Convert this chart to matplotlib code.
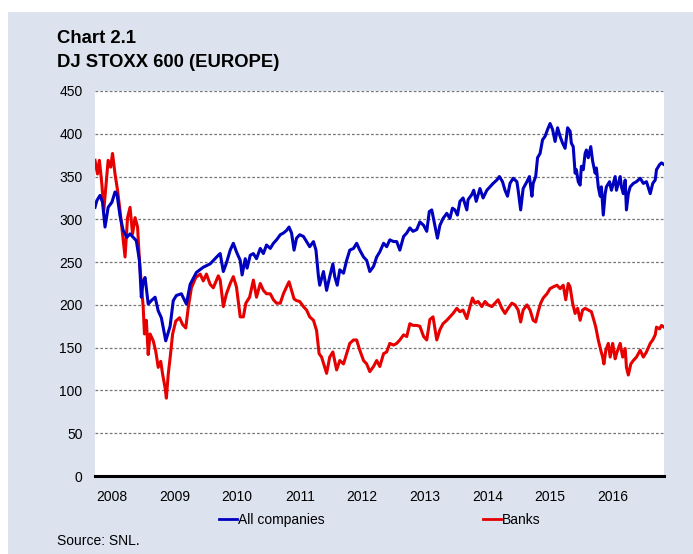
import matplotlib.pyplot as plt
from matplotlib.patches import Rectangle
from matplotlib.lines import Line2D

plt.rcParams["font.family"] = ["Liberation Sans", "DejaVu Sans"]

# All companies (blue), decimal year / index level
blue_t = [2008.00, 2008.03, 2008.08, 2008.12, 2008.16, 2008.21, 2008.27, 2008.32, 2008.35, 2008.40,
          2008.45, 2008.51, 2008.56, 2008.61, 2008.66, 2008.71, 2008.74, 2008.77, 2008.80, 2008.85,
          2008.90, 2008.96, 2009.01, 2009.06, 2009.13, 2009.20, 2009.25, 2009.30, 2009.38, 2009.46,
          2009.52, 2009.62, 2009.73, 2009.84, 2009.97,
          2010.00, 2010.05, 2010.10, 2010.16, 2010.21, 2010.26, 2010.32, 2010.35, 2010.40, 2010.43,
          2010.48, 2010.53, 2010.58, 2010.64, 2010.69, 2010.74, 2010.80, 2010.85, 2010.90, 2010.96,
          2011.01, 2011.06, 2011.10, 2011.14, 2011.18, 2011.22, 2011.27, 2011.33, 2011.38, 2011.43,
          2011.49, 2011.53, 2011.57, 2011.59, 2011.65, 2011.70, 2011.75,
          2011.80, 2011.83, 2011.87, 2011.91, 2011.97, 2012.02, 2012.07, 2012.13, 2012.18, 2012.23,
          2012.29, 2012.34, 2012.39, 2012.45, 2012.50, 2012.55, 2012.61, 2012.66, 2012.71, 2012.77,
          2012.82, 2012.87, 2012.93, 2012.98, 2013.03, 2013.08, 2013.14, 2013.19, 2013.25, 2013.30,
          2013.34, 2013.38, 2013.43, 2013.47, 2013.51, 2013.56, 2013.62, 2013.67,
          2013.71, 2013.75, 2013.79, 2013.83, 2013.88, 2013.94, 2013.96, 2014.02, 2014.05, 2014.09,
          2014.15, 2014.20, 2014.26, 2014.31, 2014.36, 2014.42, 2014.46, 2014.51, 2014.55, 2014.59,
          2014.63, 2014.68, 2014.74, 2014.76, 2014.80, 2014.84, 2014.90, 2014.94, 2014.98, 2015.00,
          2015.04, 2015.07, 2015.11, 2015.15, 2015.19, 2015.23, 2015.27, 2015.31, 2015.35, 2015.39,
          2015.43, 2015.47, 2015.51, 2015.55,
          2015.59, 2015.61, 2015.64, 2015.67, 2015.69, 2015.72, 2015.75, 2015.77, 2015.80, 2015.83,
          2015.85, 2015.88, 2015.92, 2015.95, 2015.99, 2016.01, 2016.04, 2016.07, 2016.09, 2016.12,
          2016.15, 2016.17, 2016.22, 2016.25, 2016.28, 2016.31, 2016.33, 2016.36, 2016.39, 2016.41,
          2016.44, 2016.47, 2016.49, 2016.52, 2016.55, 2016.60, 2016.65, 2016.71, 2016.76, 2016.81,
          2016.87, 2016.91, 2016.95, 2016.97, 2017.02, 2017.05, 2017.09]
blue_v = [314, 322, 328, 320, 291, 314, 320, 332, 330, 304,
          287, 279, 283, 279, 275, 252, 209, 228, 232, 201,
          205, 209, 193, 185, 158, 175, 205, 211, 213, 201,
          224, 238, 244, 248, 258,
          260, 239, 249, 264, 272, 262, 252, 235, 254, 243,
          258, 260, 254, 266, 260, 270, 266, 272, 276, 282,
          284, 287, 291, 284, 264, 278, 282, 280, 274, 268,
          274, 264, 233, 223, 239, 217, 233,
          248, 233, 223, 241, 237, 252, 264, 266, 272, 264,
          256, 252, 239, 245, 256, 262, 272, 268, 276, 274,
          274, 264, 280, 284, 290, 286, 288, 297, 293, 286,
          309, 311, 293, 278, 293, 301, 307, 301,
          313, 311, 305, 321, 325, 311, 323, 329, 334, 321,
          336, 325, 334, 338, 342, 346, 350, 344, 334, 327,
          342, 348, 344, 334, 311, 336, 344, 350, 327, 342,
          350, 372, 377, 393, 397, 405, 412, 405, 391, 407,
          397, 389, 383, 407,
          403, 389, 385, 354, 358, 344, 340, 362, 358, 377,
          381, 372, 385, 368, 354, 360, 338, 327, 338, 305,
          330, 338, 344, 334, 342, 350, 334, 342, 350, 338,
          330, 346, 311, 330, 338, 342, 344, 348, 342, 344,
          330, 342, 346, 358, 364, 366, 364]

# Banks (red)
red_t = [2008.00, 2008.04, 2008.07, 2008.11, 2008.14, 2008.19, 2008.21, 2008.25, 2008.28, 2008.32,
         2008.36, 2008.40, 2008.44, 2008.48, 2008.52, 2008.56, 2008.60, 2008.64, 2008.68, 2008.71,
         2008.74, 2008.77, 2008.79, 2008.82, 2008.85, 2008.88, 2008.93, 2008.97, 2009.01, 2009.05,
         2009.08, 2009.12, 2009.14, 2009.17, 2009.20, 2009.24, 2009.29, 2009.35, 2009.40, 2009.45,
         2009.49, 2009.54, 2009.61, 2009.68, 2009.73, 2009.78, 2009.84, 2009.89, 2009.97,
         2010.00, 2010.05, 2010.10, 2010.16, 2010.21, 2010.26, 2010.32, 2010.37, 2010.41, 2010.47,
         2010.53, 2010.58, 2010.64, 2010.69, 2010.74, 2010.80, 2010.85, 2010.90, 2010.96, 2011.01,
         2011.06, 2011.10, 2011.14, 2011.18, 2011.22, 2011.27, 2011.33, 2011.38, 2011.43, 2011.49,
         2011.54, 2011.58, 2011.62, 2011.67, 2011.70, 2011.75,
         2011.80, 2011.86, 2011.91, 2011.97, 2012.02, 2012.07, 2012.13, 2012.18, 2012.23, 2012.29,
         2012.34, 2012.39, 2012.45, 2012.50, 2012.55, 2012.61, 2012.66, 2012.71, 2012.77, 2012.82,
         2012.87, 2012.93, 2012.98, 2013.03, 2013.08, 2013.14, 2013.19, 2013.25, 2013.30, 2013.35,
         2013.40, 2013.46, 2013.51, 2013.56, 2013.62, 2013.67,
         2013.72, 2013.78, 2013.83, 2013.88, 2013.94, 2013.99, 2014.03, 2014.07, 2014.12, 2014.18,
         2014.23, 2014.28, 2014.34, 2014.39, 2014.44, 2014.50, 2014.55, 2014.60, 2014.66, 2014.71,
         2014.76, 2014.80, 2014.84, 2014.90, 2014.95, 2015.00, 2015.04, 2015.08, 2015.12, 2015.16,
         2015.22, 2015.27, 2015.32, 2015.38, 2015.43, 2015.48, 2015.52, 2015.56,
         2015.59, 2015.63, 2015.67, 2015.71, 2015.75, 2015.79, 2015.83, 2015.88, 2015.93, 2015.97,
         2016.00, 2016.04, 2016.08, 2016.11, 2016.13, 2016.16, 2016.20, 2016.23, 2016.27, 2016.31,
         2016.34, 2016.39, 2016.43, 2016.47, 2016.49, 2016.52, 2016.56, 2016.60, 2016.65, 2016.71,
         2016.76, 2016.81, 2016.87, 2016.91, 2016.95, 2016.97, 2017.02, 2017.05, 2017.09]
red_v = [369, 353, 369, 341, 310, 353, 369, 361, 377, 353,
         334, 310, 283, 256, 302, 314, 283, 302, 291, 252,
         224, 197, 166, 182, 142, 166, 158, 146, 127, 134,
         119, 103, 91, 119, 138, 166, 181, 185, 177, 173,
         197, 220, 232, 236, 228, 236, 224, 220, 234,
         229, 198, 213, 225, 233, 221, 186, 186, 202, 209,
         229, 209, 225, 217, 213, 213, 206, 202, 202, 213,
         221, 227, 217, 207, 205, 204, 198, 194, 186, 182,
         170, 143, 139, 127, 120, 139,
         145, 124, 135, 131, 143, 155, 159, 159, 147, 135,
         131, 122, 128, 135, 128, 143, 145, 155, 153, 155,
         159, 165, 163, 178, 176, 176, 175, 163, 159, 183,
         186, 159, 171, 178, 182, 186,
         190, 196, 192, 194, 184, 198, 208, 202, 204, 198,
         204, 200, 198, 202, 206, 196, 190, 196, 202, 200,
         194, 180, 194, 200, 194, 182, 180, 192, 202, 208,
         213, 219, 221, 223, 219, 223, 206, 225,
         221, 202, 190, 196, 182, 194, 196, 194, 192, 182,
         174, 159, 147, 139, 131, 147, 155, 139, 155, 137,
         145, 155, 139, 149, 127, 118, 131, 135, 139, 147,
         139, 145, 155, 159, 165, 174, 172, 176, 174]

years = [2008, 2009, 2010, 2011, 2012, 2013, 2014, 2015, 2016]
y_ticks = [0, 50, 100, 150, 200, 250, 300, 350, 400, 450]

fig = plt.figure(figsize=(6.93, 5.54), dpi=100, facecolor="white")
bg = "#DCE2EE"
fig.patches.append(Rectangle((8 / 693, 0), 1 - 8 / 693, 1 - 12 / 554,
                             transform=fig.transFigure, facecolor=bg,
                             edgecolor="none", zorder=-10))

ax = fig.add_axes([95 / 693, 1 - 476 / 554, 569 / 693, 385 / 554])
ax.set_facecolor("white")

ax.plot(blue_t, blue_v, color="#0000BF", linewidth=2.2, zorder=3)
ax.plot(red_t, red_v, color="#E60000", linewidth=2.2, zorder=2)

ax.set_ylim(0, 450)
ax.set_xlim(2008.0, 2017.09)
ax.set_yticks(y_ticks)
for v in y_ticks[1:]:
    ax.axhline(v, color="#777777", linewidth=0.9, linestyle=(0, (2.2, 1.6)), zorder=1)

ax.set_xticks([y + 0.27 for y in years], [str(y) for y in years])
ax.tick_params(axis="both", length=0, labelsize=10, colors="black")
ax.tick_params(axis="y", pad=9)
ax.tick_params(axis="x", pad=10)

for s in ["top", "left", "right"]:
    ax.spines[s].set_visible(False)
ax.spines["bottom"].set_linewidth(2.2)
ax.spines["bottom"].set_color("black")
ax.spines["bottom"].set_zorder(4)

fig.text(57 / 693, 1 - 43 / 554, "Chart 2.1", fontsize=13.3, fontweight="bold", va="baseline")
fig.text(57 / 693, 1 - 67 / 554, "DJ STOXX 600 (EUROPE)", fontsize=13.3, fontweight="bold",
         va="baseline")
fig.text(57 / 693, 1 - 541 / 554, "Source: SNL.", fontsize=10, va="center")

handles = [Line2D([], [], color="#0000BF", linewidth=2),
           Line2D([], [], color="#E60000", linewidth=2)]
fig.legend(handles, ["All companies", "Banks"], loc="center",
           bbox_to_anchor=(380 / 693, 1 - 520 / 554), ncol=2, frameon=False,
           fontsize=10, handlelength=1.25, handletextpad=0.1, columnspacing=11.4,
           borderpad=0)

fig.savefig("out.png", dpi=100, facecolor="white")
